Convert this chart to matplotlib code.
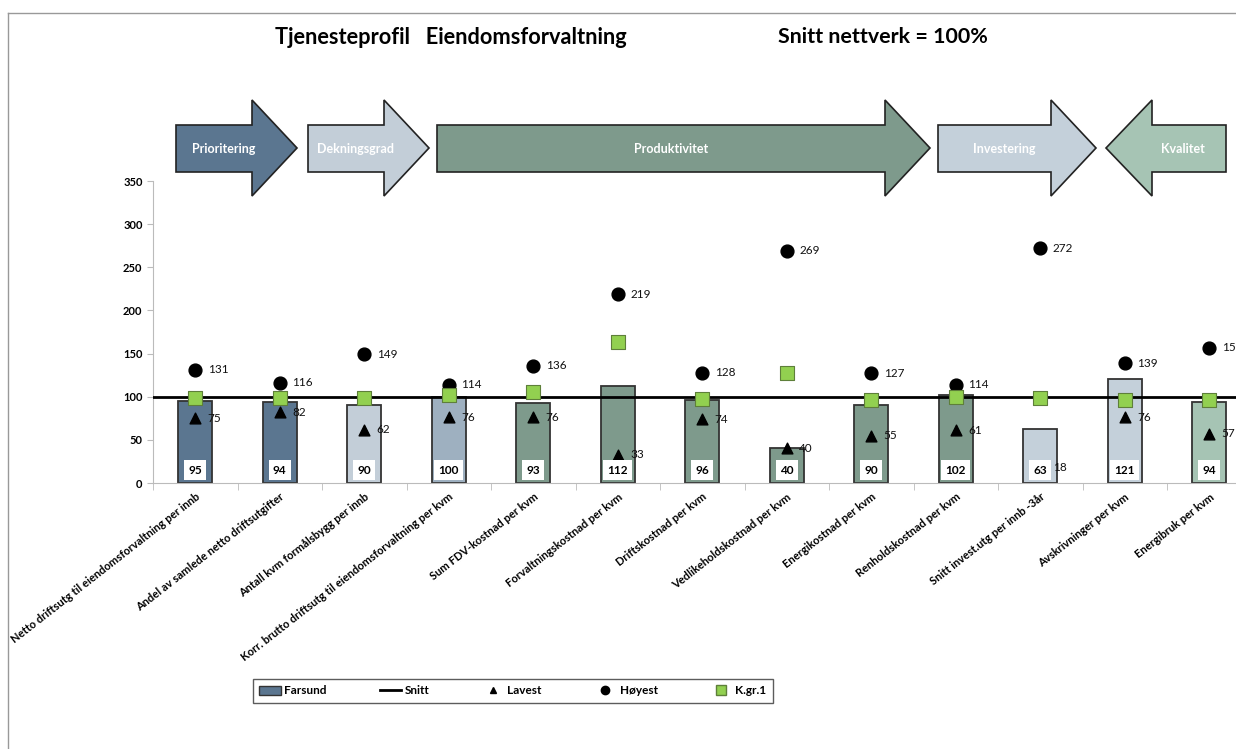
import matplotlib.pyplot as plt
from matplotlib.patches import Polygon, Patch
from matplotlib.lines import Line2D

plt.rcParams['font.family'] = ['Lato', 'DejaVu Sans']

kategorier = [
    'Netto driftsutg til eiendomsforvaltning per innb',
    'Andel av samlede netto driftsutgifter',
    'Antall kvm formålsbygg per innb',
    'Korr. brutto driftsutg til eiendomsforvaltning per kvm',
    'Sum FDV-kostnad per kvm',
    'Forvaltningskostnad per kvm',
    'Driftskostnad per kvm',
    'Vedlikeholdskostnad per kvm',
    'Energikostnad per kvm',
    'Renholdskostnad per kvm',
    'Snitt invest.utg per innb -3år',
    'Avskrivninger per kvm',
    'Energibruk per kvm',
]
farsund = [95, 94, 90, 100, 93, 112, 96, 40, 90, 102, 63, 121, 94]
snitt = 100
lavest = [75, 82, 62, 76, 76, 33, 74, 40, 55, 61, 18, 76, 57]
hoyest = [131, 116, 149, 114, 136, 219, 128, 269, 127, 114, 272, 139, 157]
kgr1 = [99, 98.5, 98.5, 102, 105, 163, 97, 128, 96, 100, 98, 96, 96]

farger = ['#5B7690', '#5B7690', '#C3CED8', '#9EB0C0', '#7E9A8C', '#7E9A8C', '#7E9A8C',
          '#7E9A8C', '#7E9A8C', '#7E9A8C', '#C4D0DA', '#C4D0DA', '#A6C4B4']

# piler: (tekst, venstre, hodestart, spiss, farge, tekst-forskyvning)
piler = [
    ('Prioritering', 176, 252, 297, '#5B7690', 10),
    ('Dekningsgrad', 308, 384, 429, '#C3CED8', 10),
    ('Produktivitet', 437, 885, 930, '#7E9A8C', 10),
    ('Investering', 938, 1051, 1096, '#C4D0DA', 10),
    ('Kvalitet', 1226, 1152, 1106, '#A6C4B4', -6),
]

W, H = 1236, 749
fig = plt.figure(figsize=(W / 100, H / 100), dpi=100)

# overlay i pikselkoordinater for piler, tittel og ramme
ov = fig.add_axes([0, 0, 1, 1])
ov.set_xlim(0, W)
ov.set_ylim(H, 0)
ov.axis('off')

ax_left, ax_w = 153, 84.5 * 13
ax = fig.add_axes([ax_left / W, (H - 483) / H, ax_w / W, (483 - 181) / H])
ax.set_facecolor('none')

x = list(range(len(kategorier)))
ax.bar(x, farsund, width=0.4, color=farger, edgecolor='#333333', linewidth=1.3, zorder=2)
ax.axhline(snitt, color='black', linewidth=2, zorder=3)
ax.scatter(x, kgr1, marker='s', s=95, color='#92D050', edgecolors='#5E7F3A', linewidths=0.8, zorder=5)
ax.scatter(x, hoyest, marker='o', s=85, color='black', zorder=4)
ax.scatter(x, lavest, marker='^', s=60, color='black', zorder=4)

for i in x:
    ax.annotate(str(hoyest[i]), (i, hoyest[i]), xytext=(9, 0), textcoords='offset points',
                va='center', ha='left', fontsize=8.5, color='#111111', zorder=6)
    ax.annotate(str(lavest[i]), (i, lavest[i]), xytext=(9, 0), textcoords='offset points',
                va='center', ha='left', fontsize=8.5, color='#111111', zorder=6)
    ax.text(i, 15, str(farsund[i]), ha='center', va='center', fontsize=8.5, fontweight='bold',
            bbox=dict(facecolor='white', edgecolor='none', pad=3), zorder=7)

ax.set_xlim(-0.5, 12.5)
ax.set_ylim(0, 350)
ax.set_yticks(range(0, 351, 50))
ax.set_xticks([i + 0.5 for i in range(-1, 13)], minor=True)
ax.set_xticks(x)
ax.set_xticklabels(kategorier, rotation=38, ha='right', rotation_mode='anchor',
                   fontsize=8.0, fontweight='bold')
ax.tick_params(axis='x', which='major', length=0, pad=6)
ax.tick_params(axis='x', which='minor', length=5, color='#BBBBBB', direction='out')
ax.tick_params(axis='y', length=4, color='#BBBBBB', labelsize=8)
for lbl in ax.get_yticklabels():
    lbl.set_fontweight('bold')
for s in ['top', 'right']:
    ax.spines[s].set_visible(False)
for s in ['left', 'bottom']:
    ax.spines[s].set_color('#BBBBBB')

topp, kt, kb, bunn = 100, 125, 172, 196
midt = (topp + bunn) / 2
for tekst, v, hs, sp, farge, dx in piler:
    pts = [(v, kt), (hs, kt), (hs, topp), (sp, midt), (hs, bunn), (hs, kb), (v, kb)]
    ov.add_patch(Polygon(pts, closed=True, facecolor=farge, edgecolor='#222222', linewidth=1.2))
    ov.text((v + hs) / 2 + dx, midt + 1, tekst, ha='center', va='center', color='white',
            fontsize=9, fontweight='bold')

ov.text(275, 37, 'Tjenesteprofil   Eiendomsforvaltning', ha='left', va='center',
        fontsize=15.7, fontweight='bold')
ov.text(778, 37, 'Snitt nettverk = 100%', ha='left', va='center',
        fontsize=15.4, fontweight='bold')
ov.plot([8, W], [13, 13], color='#999999', linewidth=1)
ov.plot([8, 8], [13, H], color='#999999', linewidth=1)

handles = [
    Patch(facecolor='#5B7690', edgecolor='#333333', label='Farsund'),
    Line2D([], [], color='black', linewidth=2, label='Snitt'),
    Line2D([], [], color='black', marker='^', linestyle='none', markersize=5, label='Lavest'),
    Line2D([], [], color='black', marker='o', linestyle='none', markersize=6, label='Høyest'),
    Line2D([], [], color='#92D050', marker='s', markeredgecolor='#5E7F3A', linestyle='none',
           markersize=7, label='K.gr.1'),
]
leg = fig.legend(handles=handles, loc='center', bbox_to_anchor=(513 / W, 1 - 691 / H), ncol=5,
                 frameon=True, fancybox=False, edgecolor='#333333',
                 columnspacing=4.5, handlelength=1.8, handletextpad=0.3,
                 borderpad=0.55, borderaxespad=0, prop={'weight': 'bold', 'size': 8.5})
leg.get_frame().set_linewidth(1)

fig.savefig('out.png', dpi=100)
